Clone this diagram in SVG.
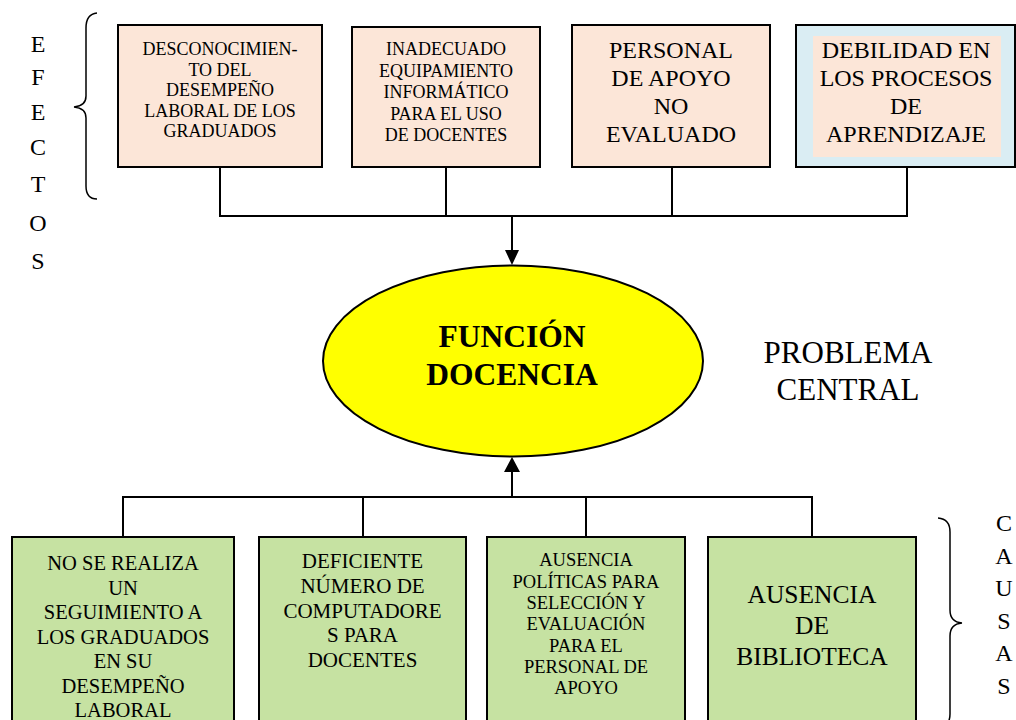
<svg xmlns="http://www.w3.org/2000/svg" width="1016" height="720" viewBox="0 0 1016 720">
<style>
text{font-family:"Liberation Serif","Times New Roman",serif;fill:#000;text-anchor:middle}
.box{stroke:#000;stroke-width:2}
.eff{fill:#FCE6D8}
.cau{fill:#C6E2A2}
.ln{stroke:#000;stroke-width:2;fill:none}
.brace{stroke:#000;stroke-width:1.5;fill:none}
</style>
<defs>
<marker id="ah" viewBox="0 0 10 10" refX="10" refY="5" markerWidth="8" markerHeight="8" markerUnits="userSpaceOnUse" orient="auto">
<path d="M0,0 L10,5 L0,10 Z" fill="#000"/>
</marker>
</defs>
<rect width="1016" height="720" fill="#fff"/>

<g id="label-efectos">
<path class="brace" d="M97,13 Q86,14 86,28 L86,96 Q86,106 74,107 Q86,108 86,118 L86,186 Q86,199 97,199"/>
<text font-size="24"><tspan x="38" y="52">E</tspan><tspan x="38" y="85">F</tspan><tspan x="38" y="120">E</tspan><tspan x="38" y="155">C</tspan><tspan x="38" y="192">T</tspan><tspan x="38" y="231">O</tspan><tspan x="38" y="269">S</tspan></text>
</g>

<g id="connectors">
<path class="ln" d="M220,167 V216 M446,167 V216 M672,167 V216 M907,167 V216 M219,216 H908"/>
<path class="ln" d="M512,216 V251"/>
<path d="M505,250 L519,250 L512,265 Z" fill="#000"/>
<path class="ln" d="M123,537 V497 M363,537 V497 M586,537 V497 M812,537 V497 M122,497 H813"/>
<path class="ln" d="M512,497 V471"/>
<path d="M504,472 L520,472 L512,457 Z" fill="#000"/>
</g>

<g id="efecto1">
<rect class="box eff" x="118" y="25" width="204" height="142"/>
<text font-size="18"><tspan x="220" y="55">DESCONOCIMIEN-</tspan><tspan x="220" y="75.5">TO DEL</tspan><tspan x="220" y="96">DESEMPEÑO</tspan><tspan x="220" y="116.5">LABORAL DE LOS</tspan><tspan x="220" y="137">GRADUADOS</tspan></text>
</g>
<g id="efecto2">
<rect class="box eff" x="352" y="27" width="188" height="140"/>
<text font-size="18"><tspan x="446" y="55">INADECUADO</tspan><tspan x="446" y="76.5">EQUIPAMIENTO</tspan><tspan x="446" y="98">INFORMÁTICO</tspan><tspan x="446" y="119.5">PARA EL USO</tspan><tspan x="446" y="141">DE DOCENTES</tspan></text>
</g>
<g id="efecto3">
<rect class="box eff" x="572" y="25" width="198" height="142"/>
<text font-size="24"><tspan x="671" y="58">PERSONAL</tspan><tspan x="671" y="86">DE APOYO</tspan><tspan x="671" y="114">NO</tspan><tspan x="671" y="142">EVALUADO</tspan></text>
</g>
<g id="efecto4">
<rect class="box" fill="#DAEDF3" x="796" y="25" width="219" height="142"/>
<rect class="eff" x="813" y="36" width="188" height="121"/>
<text font-size="24"><tspan x="906" y="58">DEBILIDAD EN</tspan><tspan x="906" y="86">LOS PROCESOS</tspan><tspan x="906" y="114">DE</tspan><tspan x="906" y="142">APRENDIZAJE</tspan></text>
</g>

<g id="problema">
<ellipse cx="513" cy="361" rx="190" ry="95.5" fill="#FFFF00" stroke="#000" stroke-width="2"/>
<text font-size="31.5" font-weight="bold"><tspan x="512" y="347">FUNCIÓN</tspan><tspan x="512" y="385">DOCENCIA</tspan></text>
</g>
<g id="label-problema">
<text font-size="31"><tspan x="848" y="363">PROBLEMA</tspan><tspan x="848" y="400">CENTRAL</tspan></text>
</g>

<g id="causa1">
<rect class="box cau" x="12" y="537" width="222" height="195"/>
<text font-size="20.5"><tspan x="123" y="570">NO SE REALIZA</tspan><tspan x="123" y="594.5">UN</tspan><tspan x="123" y="619">SEGUIMIENTO A</tspan><tspan x="123" y="643.5">LOS GRADUADOS</tspan><tspan x="123" y="668">EN SU</tspan><tspan x="123" y="692.5">DESEMPEÑO</tspan><tspan x="123" y="717">LABORAL</tspan></text>
</g>
<g id="causa2">
<rect class="box cau" x="259" y="537" width="207" height="195"/>
<text font-size="21"><tspan x="362.5" y="568">DEFICIENTE</tspan><tspan x="362.5" y="593">NÚMERO DE</tspan><tspan x="362.5" y="617.5">COMPUTADORE</tspan><tspan x="362.5" y="642">S PARA</tspan><tspan x="362.5" y="667">DOCENTES</tspan></text>
</g>
<g id="causa3">
<rect class="box cau" x="487" y="537" width="198" height="195"/>
<text font-size="18.5"><tspan x="586" y="566">AUSENCIA</tspan><tspan x="586" y="587.5">POLÍTICAS PARA</tspan><tspan x="586" y="609">SELECCIÓN Y</tspan><tspan x="586" y="630">EVALUACIÓN</tspan><tspan x="586" y="651.5">PARA EL</tspan><tspan x="586" y="673">PERSONAL DE</tspan><tspan x="586" y="694">APOYO</tspan></text>
</g>
<g id="causa4">
<rect class="box cau" x="708" y="537" width="208" height="195"/>
<text font-size="25.5"><tspan x="812" y="603">AUSENCIA</tspan><tspan x="812" y="634">DE</tspan><tspan x="812" y="665">BIBLIOTECA</tspan></text>
</g>

<g id="label-causas">
<path class="brace" d="M938,518 Q950,519 950,532 L950,610 Q950,622 962,623 Q950,624 950,636 L950,714 Q950,727 938,728"/>
<text font-size="24"><tspan x="1004" y="531">C</tspan><tspan x="1004" y="563.5">A</tspan><tspan x="1004" y="596">U</tspan><tspan x="1004" y="628.5">S</tspan><tspan x="1004" y="661">A</tspan><tspan x="1004" y="693.5">S</tspan></text>
</g>
</svg>
